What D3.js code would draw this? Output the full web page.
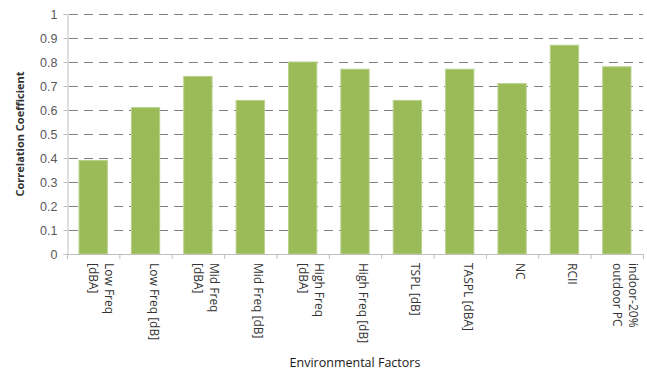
<!DOCTYPE html>
<html>
<head>
<meta charset="utf-8">
<script src="https://cdn.jsdelivr.net/npm/d3@7"></script>
<style>
  body { margin: 0; background: #fff; }
  svg { display: block; font-family: "Open Sans", sans-serif; }
</style>
</head>
<body>
<svg width="647" height="374"></svg>
<script>
// *** data ***
const categories = [
    ['Low Freq', '[dBA]'],
    ['Low Freq [dB]'],
    ['Mid Freq', '[dBA]'],
    ['Mid Freq [dB]'],
    ['High Freq', '[dBA]'],
    ['High Freq [dB]'],
    ['TSPL [dB]'],
    ['TASPL [dBA]'],
    ['NC'],
    ['RCII'],
    ['indoor-20%', 'outdoor PC'],
];
const values = [0.39, 0.61, 0.74, 0.64, 0.80, 0.77, 0.64, 0.77, 0.71, 0.87, 0.78];
const yTicks = [0, 0.1, 0.2, 0.3, 0.4, 0.5, 0.6, 0.7, 0.8, 0.9, 1];
const yTitle = 'Correlation Coefficient';
const xTitle = 'Environmental Factors';

const svg = d3.select('svg');
const margin = { left: 67, right: 4, top: 14, bottom: 120 };
const width = +svg.attr('width');
const height = +svg.attr('height');
const plotBottom = height - margin.bottom;

const x = d3.scaleBand()
    .domain(d3.range(categories.length))
    .range([margin.left, width - margin.right])
    .paddingInner(0.46)
    .paddingOuter(0.23);
const y = d3.scaleLinear()
    .domain([0, 1])
    .range([plotBottom, margin.top]);

// gridlines
svg.append('g')
    .selectAll('line')
    .data(yTicks.filter(d => d > 0))
    .enter()
    .append('line')
    .attr('x1', margin.left - 4)
    .attr('x2', width - margin.right)
    .attr('y1', d => y(d) + 0.5)
    .attr('y2', d => y(d) + 0.5)
    .attr('stroke', '#808080')
    .attr('stroke-width', 1)
    .attr('stroke-dasharray', '9,6')
    .attr('stroke-dashoffset', -6);

// y axis
const yAxis = svg.append('g')
    .attr('transform', `translate(${margin.left + 0.5},0)`)
    .call(d3.axisLeft(y).tickValues(yTicks).tickFormat(d3.format('~g')).tickSize(4).tickPadding(6));
yAxis.select('.domain').attr('stroke', '#bfbfbf');
yAxis.selectAll('.tick line').attr('stroke', '#bfbfbf');
yAxis.selectAll('.tick text')
    .attr('fill', '#595959')
    .style('font-size', '12.5px');

// bars
svg.append('g')
    .selectAll('rect')
    .data(values)
    .enter()
    .append('rect')
    .attr('x', (d, i) => x(i))
    .attr('y', d => y(d))
    .attr('width', x.bandwidth())
    .attr('height', d => plotBottom - y(d))
    .attr('fill', '#9bbb59')
    .attr('stroke', '#b8d08a')
    .attr('stroke-width', 1);

// x axis line with ticks between categories
const step = x.step();
const xAxis = svg.append('g');
xAxis.append('line')
    .attr('x1', margin.left)
    .attr('x2', width - margin.right)
    .attr('y1', plotBottom + 0.5)
    .attr('y2', plotBottom + 0.5)
    .attr('stroke', '#bfbfbf');
xAxis.selectAll('.sep')
    .data(d3.range(categories.length + 1))
    .enter()
    .append('line')
    .attr('class', 'sep')
    .attr('x1', i => margin.left + i * step + 0.5)
    .attr('x2', i => margin.left + i * step + 0.5)
    .attr('y1', plotBottom)
    .attr('y2', plotBottom + 5)
    .attr('stroke', '#bfbfbf');

// category labels, rotated to read top to bottom
const labels = xAxis.selectAll('.cat')
    .data(categories)
    .enter()
    .append('text')
    .attr('class', 'cat')
    .attr('transform', (d, i) => {
        const cx = x(i) + x.bandwidth() / 2 + (d.length - 1) * 8 + 4;
        return `translate(${cx},${plotBottom + 9}) rotate(90)`;
    })
    .attr('fill', '#333333')
    .style('font-size', '12px');
labels.selectAll('tspan')
    .data(d => d)
    .enter()
    .append('tspan')
    .attr('x', 0)
    .attr('dy', (d, i) => i === 0 ? 0 : 16)
    .text(d => d);

// titles
svg.append('text')
    .attr('transform', `translate(24,${(margin.top + plotBottom) / 2}) rotate(-90)`)
    .attr('text-anchor', 'middle')
    .attr('fill', '#333333')
    .style('font-size', '11px')
    .style('font-weight', 'bold')
    .text(yTitle);
svg.append('text')
    .attr('x', 355)
    .attr('y', 367)
    .attr('text-anchor', 'middle')
    .attr('fill', '#1a1a1a')
    .style('font-size', '12.5px')
    .text(xTitle);
</script>
</body>
</html>
